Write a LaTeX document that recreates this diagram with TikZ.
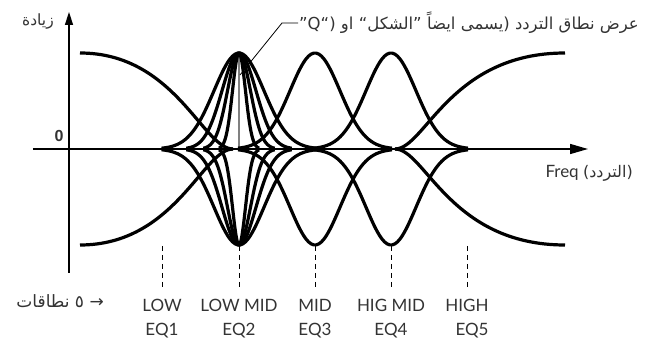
\documentclass[tikz,border=0pt]{standalone}
\usepackage{fontspec}
\setmainfont{Lato}
\newfontfamily\arabicfont[Script=Arabic]{DejaVu Sans}
\newfontfamily\zerofont{Liberation Sans}
\usetikzlibrary{arrows.meta}
\TeXXeTstate=1

\begin{document}
\begin{tikzpicture}[x=1pt, y=1pt,
  curve/.style={line width=3.2pt, line join=round},
  axis/.style={line width=1.5pt},
  guide/.style={line width=0.9pt, dash pattern=on 5pt off 4pt},
  lbl/.style={text=black!80, font=\fontsize{17}{24}\selectfont, align=center, inner sep=0pt},
  arlbl/.style={text=black!80, font=\arabicfont\fontsize{16.5}{18}\selectfont, inner sep=1pt}]
  % Frame of the picture
  \useasboundingbox (-69,-193) rectangle (587,149);

  % Full boost/cut and band centres
  \def\g{96}
  \coordinate (O)  at (0,0);
  \coordinate (E1) at (93,0);
  \coordinate (E2) at (170,0);
  \coordinate (E3) at (246,0);
  \coordinate (E4) at (322,0);
  \coordinate (E5) at (398,0);

  % Axes
  \coordinate (ybot) at (0,-124);
  \coordinate (ytop) at (0,137);
  \coordinate (xl) at (-36,0);
  \coordinate (xr) at (519,0);
  \draw[axis, -{Triangle[length=13pt,width=8pt]}] (ybot) -- (ytop);
  \draw[axis, -{Triangle[length=18pt,width=10pt]}] (xl) -- (xr);

  % Bandwidth marker at EQ2
  \draw[line width=1.5pt, gray] (E2) -- ++(0,\g);

  % Low shelf (EQ1), boost and cut
  \draw[curve] (11,\g) .. controls (106,\g) and (134,0) .. (164,0);
  \draw[curve] (11,-\g) .. controls (106,-\g) and (134,0) .. (164,0);

  % High shelf (EQ5), boost and cut
  \draw[curve] (326,0) .. controls (356,0) and (381,\g) .. (496,\g);
  \draw[curve] (326,0) .. controls (356,0) and (381,-\g) .. (496,-\g);

  % EQ2 bells with four widths
  \foreach \s in {25,17,11.5,6.5}
    \foreach \h in {\g,-\g}
      \draw[curve] plot[domain=-3.1*\s:3.1*\s, samples=60, smooth]
        ({170+\x}, {\h*exp(-(\x/\s)*(\x/\s)/2)});

  % EQ3 and EQ4 bells
  \foreach \c in {246,322}
    \foreach \h in {\g,-\g}
      \draw[curve] plot[domain=-77:77, samples=60, smooth]
        ({\c+\x}, {\h*exp(-(\x/25)*(\x/25)/2)});

  % Dashed guides and band names
  \foreach \i in {1,...,5}
    \draw[guide] ([yshift=-97pt]E\i) -- ([yshift=-141pt]E\i);
  \node[lbl, anchor=north] (b1) at ([yshift=-150pt]E1) {LOW\\EQ1};
  \node[lbl, anchor=north] (b2) at ([yshift=-150pt]E2) {LOW MID\\EQ2};
  \node[lbl, anchor=north] (b3) at ([yshift=-150pt]E3) {MID\\EQ3};
  \node[lbl, anchor=north] (b4) at ([yshift=-150pt]E4) {HIG MID\\EQ4};
  \node[lbl, anchor=north, align=right] (b5) at ([yshift=-150pt]E5) {HIGH\\EQ5};

  % Axis labels
  \node[text=black!80, font=\zerofont\bfseries\fontsize{16}{16}\selectfont] (zero) at (-10,13) {0};
  \node[arlbl, font=\arabicfont\fontsize{15.5}{18}\selectfont] (ylab) at (-31,127) {زيادة};
  \node[lbl, anchor=east] (xlab) at (564,-24) {Freq {\arabicfont\fontsize{16}{18}\selectfont (التردد)}};
  \node[arlbl, anchor=east, font=\arabicfont\fontsize{17}{18}\selectfont] (nb) at (36,-152) {\beginR → ٥ نطاقات\endR};

  % Bandwidth label with leader
  \coordinate (q) at (171,74);
  \coordinate (k) at (213,126);
  \node[arlbl, anchor=west] (bw) at (229,126) {\beginR عرض نطاق التردد (يسمى ايضاً ”الشكل“ او ”Q“)\endR};
  \draw[line width=0.8pt] (q) -- (k) -- (bw.west);
\end{tikzpicture}
\end{document}
